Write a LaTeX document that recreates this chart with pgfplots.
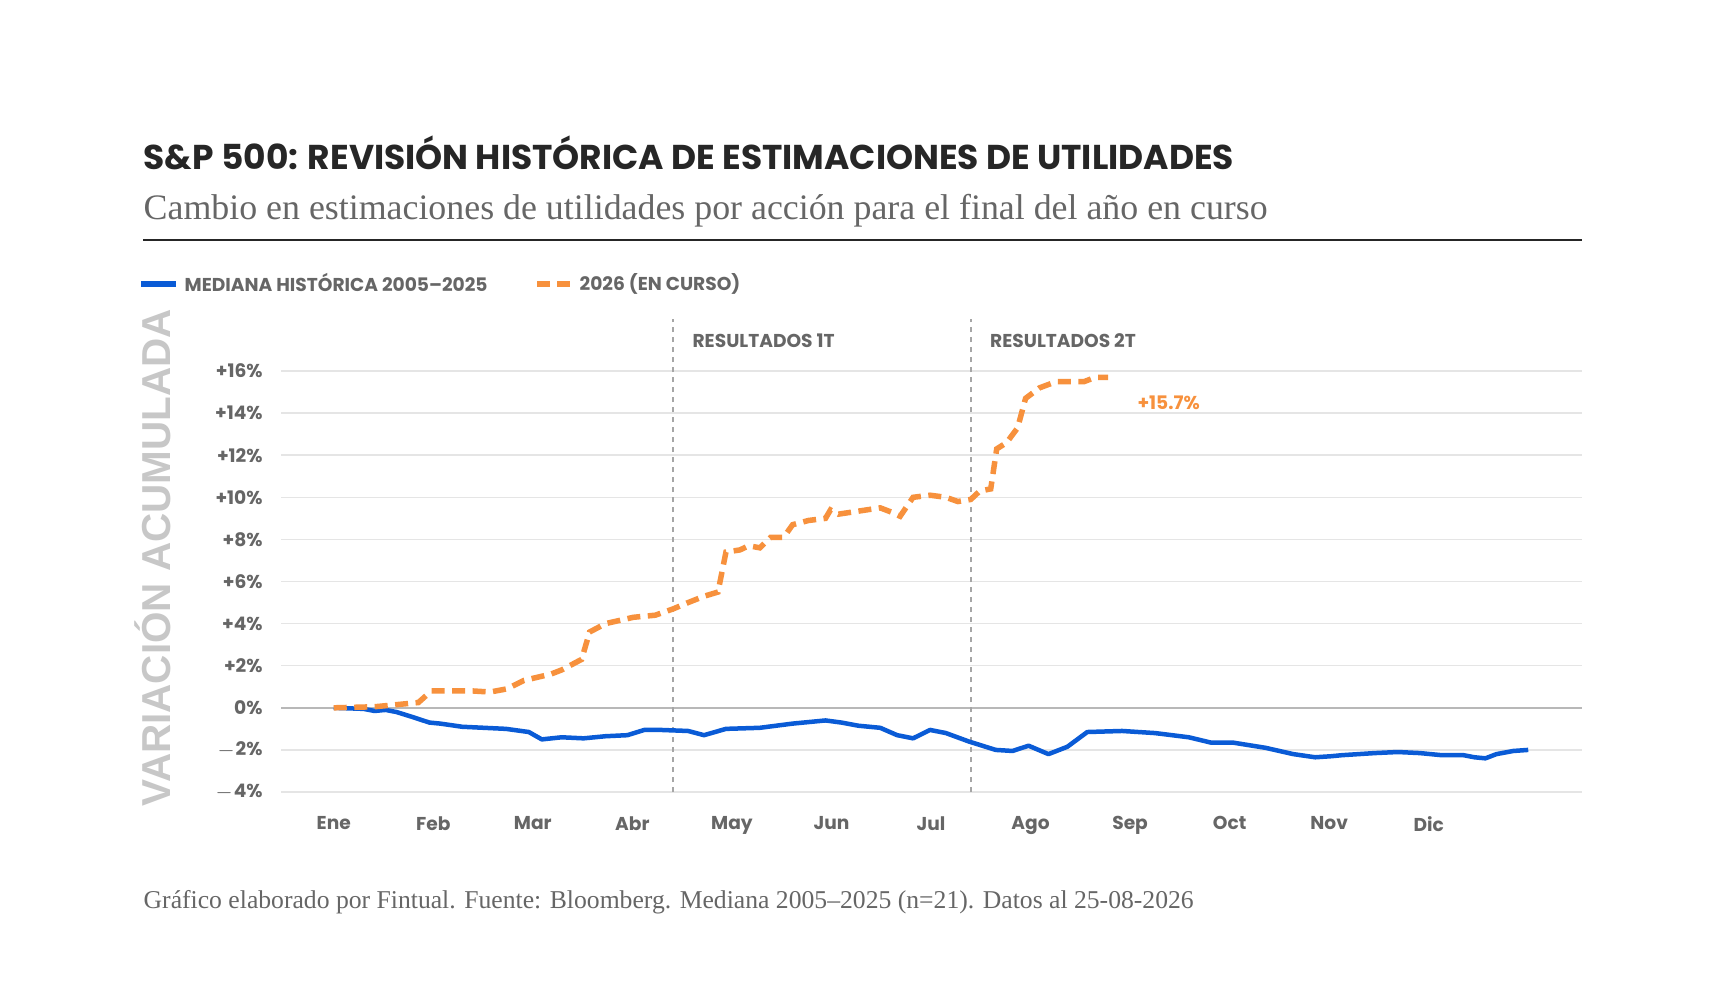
\documentclass[border=0pt]{standalone}
\usepackage{pgfplots}
\pgfplotsset{compat=1.18}
\usepackage{fontspec}
\setmainfont{Poppins}
\newfontfamily\serif{Liberation Serif}
\newfontfamily\lsans{Liberation Sans}
\definecolor{org}{HTML}{F7913D}
\definecolor{blu}{HTML}{0A5BD6}
\definecolor{tk}{HTML}{666666}
\begin{document}
\begin{tikzpicture}[x=0.1mm,y=0.1mm]
\path[use as bounding box,fill=white] (0,0) rectangle (1720,1000);
\node[anchor=base west,inner sep=0,text=black!85] at (143,830) {\fontsize{9.8pt}{12pt}\selectfont\bfseries S\&P 500: REVISIÓN HISTÓRICA DE ESTIMACIONES DE UTILIDADES};
\node[anchor=base west,inner sep=0,text=tk] at (143,780) {\serif\fontsize{10.2pt}{12pt}\selectfont Cambio en estimaciones de utilidades por acción para el final del año en curso};
\draw[black!85,line width=0.2mm] (143,760) -- (1582,760);
\draw[blu,line width=0.6mm] (141,716) -- (176,716);
\node[anchor=west,inner sep=0,text=tk] at (184,718) {\fontsize{5.3pt}{6pt}\selectfont\bfseries MEDIANA HISTÓRICA 2005–2025};
\draw[org,line width=0.6mm,dash pattern=on 1.3mm off 0.7mm] (537,716) -- (572,716);
\node[anchor=west,inner sep=0,text=tk] at (579,716) {\fontsize{5.3pt}{6pt}\selectfont\bfseries 2026 (EN CURSO)};
\node[rotate=90,text=black!22,inner sep=0] at (153,442) {\lsans\fontsize{11.5pt}{13pt}\selectfont\bfseries VARIACIÓN ACUMULADA};
\node[anchor=base west,inner sep=0,text=tk] at (143,92) {\serif\fontsize{7.3pt}{8pt}\selectfont Gráfico elaborado por Fintual. Fuente: Bloomberg. Mediana 2005–2025 (n=21). Datos al 25-08-2026};
\begin{axis}[at={(28.1mm,20.8mm)},anchor=south west,scale only axis,width=130.1mm,height=42.1mm,
  xmin=-0.53,xmax=12.54,ymin=-4,ymax=16,clip=false,
  axis line style={draw=none},tick style={draw=none},
  xtick={0,...,11},xticklabels={Ene,Feb,Mar,Abr,May,Jun,Jul,Ago,Sep,Oct,Nov,Dic},
  ytick={-4,-2,...,16},
  yticklabels={$-$4\%,$-$2\%,0\%,+2\%,+4\%,+6\%,+8\%,+10\%,+12\%,+14\%,+16\%},
  ymajorgrids,grid style={draw=black!10,line width=0.15mm},
  /pgf/number format/assume math mode=true,
  ticklabel style={text=tk,font=\fontsize{5.3pt}{6pt}\selectfont\bfseries},
  xticklabel style={yshift=-1.2mm},yticklabel style={xshift=-0.6mm},
]
\draw[black!28,line width=0.2mm] (axis cs:-0.53,0) -- (axis cs:12.54,0);
\draw[black!35,line width=0.25mm,dash pattern=on 0.5mm off 0.5mm] (axis cs:3.41,-4) -- (axis cs:3.41,18.45);
\draw[black!35,line width=0.25mm,dash pattern=on 0.5mm off 0.5mm] (axis cs:6.40,-4) -- (axis cs:6.40,18.45);
\node[anchor=west,text=tk,font=\fontsize{5.3pt}{6pt}\selectfont\bfseries] at (axis cs:3.48,17.45) {RESULTADOS 1T};
\node[anchor=west,text=tk,font=\fontsize{5.3pt}{6pt}\selectfont\bfseries] at (axis cs:6.47,17.45) {RESULTADOS 2T};
\node[anchor=west,text=org,font=\fontsize{5.3pt}{6pt}\selectfont\bfseries] at (axis cs:7.95,14.5) {+15.7\%};
\addplot[blu,line width=0.45mm,line join=round] coordinates {
(0,0)(0.30,-0.05)(0.41,-0.15)(0.52,-0.1)(0.63,-0.2)(0.80,-0.45)(0.96,-0.7)(1.07,-0.75)(1.29,-0.9)(1.51,-0.95)(1.73,-1.0)(1.96,-1.15)(2.09,-1.5)(2.29,-1.4)(2.51,-1.45)(2.73,-1.35)(2.95,-1.3)(3.12,-1.05)(3.28,-1.05)(3.56,-1.1)(3.72,-1.3)(3.94,-1.0)(4.28,-0.95)(4.61,-0.75)(4.94,-0.6)(5.10,-0.7)(5.27,-0.85)(5.49,-0.95)(5.66,-1.3)(5.82,-1.45)(5.99,-1.05)(6.15,-1.2)(6.38,-1.6)(6.65,-2.0)(6.82,-2.05)(6.98,-1.8)(7.18,-2.2)(7.37,-1.85)(7.57,-1.15)(7.92,-1.1)(8.25,-1.2)(8.59,-1.4)(8.81,-1.65)(9.03,-1.65)(9.36,-1.9)(9.64,-2.2)(9.86,-2.35)(10.02,-2.3)(10.13,-2.25)(10.46,-2.15)(10.69,-2.1)(10.91,-2.15)(11.13,-2.25)(11.35,-2.25)(11.46,-2.35)(11.57,-2.4)(11.68,-2.2)(11.85,-2.05)(12.0,-2.0)};
\addplot[org,line width=0.55mm,dash pattern=on 1.3mm off 0.75mm] coordinates {
(0,0)(0.41,0.05)(0.85,0.25)(0.98,0.8)(1.40,0.8)(1.57,0.75)(1.74,0.9)(1.91,1.3)(2.18,1.6)(2.29,1.8)(2.49,2.3)(2.57,3.6)(2.73,4.0)(3.01,4.3)(3.23,4.4)(3.41,4.7)(3.56,5.0)(3.72,5.3)(3.86,5.5)(3.94,7.4)(4.08,7.5)(4.17,7.7)(4.28,7.6)(4.39,8.1)(4.52,8.1)(4.61,8.7)(4.77,8.9)(4.94,9.0)(4.99,9.4)(5.07,9.2)(5.49,9.5)(5.60,9.3)(5.69,9.1)(5.82,10.0)(5.99,10.1)(6.15,10.0)(6.27,9.8)(6.40,9.9)(6.49,10.3)(6.60,10.4)(6.66,12.3)(6.76,12.6)(6.87,13.3)(6.95,14.7)(7.09,15.2)(7.26,15.5)(7.54,15.5)(7.65,15.7)(7.78,15.7)};
\end{axis}
\end{tikzpicture}
\end{document}
